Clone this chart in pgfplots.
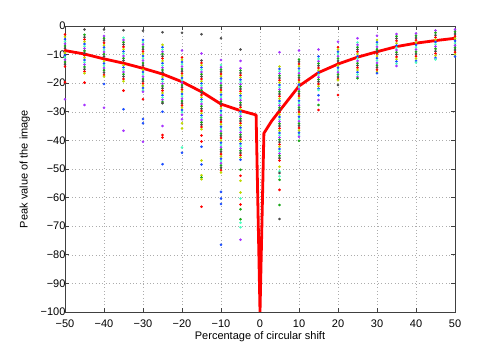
\documentclass[border=0pt]{standalone}
\usepackage{pgfplots}
\pgfplotsset{compat=1.18}
\usepackage{fontspec}
\setmainfont{Liberation Sans}

\definecolor{cr}{rgb}{1,0,0}
\definecolor{cg}{rgb}{0.1,0.65,0.1}
\definecolor{cb}{rgb}{0.1,0.3,1}
\definecolor{cp}{rgb}{0.65,0.2,1}
\definecolor{cy}{rgb}{0.75,0.85,0}
\definecolor{cc}{rgb}{0.3,1,0.75}
\definecolor{ck}{rgb}{0.3,0.3,0.3}

\begin{document}
\begin{tikzpicture}
\path[use as bounding box] (-65pt,-40pt) rectangle (437pt,312pt);
\begin{axis}[
    scale only axis,
    width=390pt, height=286pt,
    xmin=-50, xmax=50, ymin=-100, ymax=0,
    xtick={-50,-40,...,50},
    ytick={-100,-90,...,0},
    xticklabels={−50,−40,−30,−20,−10,0,10,20,30,40,50},
    yticklabels={−100,−90,−80,−70,−60,−50,−40,−30,−20,−10,0},
    xticklabel style={yshift=-4pt},
    yticklabel style={xshift=4pt},
    font=\fontsize{11}{13}\selectfont,
    axis line style={black!75, line width=0.6pt},
    tick style={black!75, line width=0.6pt},
    grid=major,
    grid style={gray!65, line width=0.5pt, dash pattern=on 0.8pt off 2.6pt},
    xlabel={Percentage of circular shift},
    ylabel={Peak value of the image},
    xlabel style={at={(axis description cs:0.5,-0.085)}, anchor=center},
    ylabel style={at={(axis description cs:-0.103,0.5)}, anchor=center},
]
% scattered peak values, one column per shift
\addplot[scatter, only marks, mark=*, mark size=1.1pt,
    point meta=explicit symbolic,
    scatter/classes={
        r={draw=cr,fill=cr}, g={draw=cg,fill=cg}, b={draw=cb,fill=cb},
        p={draw=cp,fill=cp}, y={draw=cy,fill=cy}, c={draw=cc,fill=cc},
        k={draw=ck,fill=ck}}]
coordinates {
% x = -50
(-50,-3.0)[r] (-50,-3.8)[y] (-50,-4.6)[b] (-50,-5.4)[c] (-50,-6.2)[p] (-50,-7.0)[g] (-50,-7.8)[k]
(-50,-8.6)[r] (-50,-9.4)[y] (-50,-10.2)[b] (-50,-11.0)[c] (-50,-11.8)[p] (-50,-12.6)[g] (-50,-13.4)[k]
(-50,-14.2)[r] (-50,-19.7)[r] (-50,-25.6)[p]
% x = -45
(-45,-1.2)[k]
(-45,-3.1)[g] (-45,-3.9)[k] (-45,-4.7)[r] (-45,-5.5)[y] (-45,-6.3)[b] (-45,-7.1)[c] (-45,-7.9)[p]
(-45,-8.7)[g] (-45,-9.5)[k] (-45,-10.3)[r] (-45,-11.1)[y] (-45,-11.9)[b] (-45,-12.7)[c] (-45,-13.5)[p]
(-45,-14.3)[g] (-45,-15.1)[k] (-45,-15.9)[r] (-45,-16.5)[y]
(-45,-19.8)[r] (-45,-27.6)[p]
% x = -40
(-40,-1.2)[k]
(-40,-3.5)[p] (-40,-4.3)[g] (-40,-5.1)[k] (-40,-5.9)[r] (-40,-6.7)[y] (-40,-7.5)[b] (-40,-8.3)[c]
(-40,-9.1)[p] (-40,-9.9)[g] (-40,-10.7)[k] (-40,-11.5)[r] (-40,-12.3)[y] (-40,-13.1)[b] (-40,-13.9)[c]
(-40,-14.7)[p] (-40,-15.5)[g] (-40,-16.3)[k] (-40,-17.1)[r] (-40,-17.7)[y]
(-40,-20.3)[b] (-40,-28.6)[p]
% x = -35
(-35,-1.5)[k]
(-35,-4.1)[c] (-35,-4.9)[p] (-35,-5.7)[g] (-35,-6.5)[k] (-35,-7.3)[r] (-35,-8.1)[y] (-35,-8.9)[b]
(-35,-9.7)[c] (-35,-10.5)[p] (-35,-11.3)[g] (-35,-12.1)[k] (-35,-12.9)[r] (-35,-13.7)[y] (-35,-14.5)[b]
(-35,-15.3)[c] (-35,-16.1)[p] (-35,-16.9)[g] (-35,-17.7)[k] (-35,-18.5)[r] (-35,-19.3)[y]
(-35,-22.6)[r] (-35,-29.1)[b] (-35,-36.6)[p]
% x = -30
(-30,-1.7)[k]
(-30,-4.9)[b] (-30,-5.7)[c] (-30,-6.5)[p] (-30,-7.3)[g] (-30,-8.1)[k] (-30,-8.9)[r] (-30,-9.7)[y]
(-30,-10.5)[b] (-30,-11.3)[c] (-30,-12.1)[p] (-30,-12.9)[g] (-30,-13.7)[k] (-30,-14.5)[r] (-30,-15.3)[y]
(-30,-16.1)[b] (-30,-16.9)[c] (-30,-17.7)[p] (-30,-18.5)[g] (-30,-19.3)[k] (-30,-20.1)[r] (-30,-20.9)[y]
(-30,-21.7)[b] (-30,-22.5)[c] (-30,-23.0)[p]
(-30,-25.6)[r] (-30,-32.5)[b] (-30,-34.0)[b] (-30,-40.5)[p]
% x = -25
(-25,-2.2)[k]
(-25,-6.6)[y] (-25,-7.4)[b] (-25,-8.2)[c] (-25,-9.0)[p] (-25,-9.8)[g] (-25,-10.6)[k] (-25,-11.4)[r]
(-25,-12.2)[y] (-25,-13.0)[b] (-25,-13.8)[c] (-25,-14.6)[p] (-25,-15.4)[g] (-25,-16.2)[k] (-25,-17.0)[r]
(-25,-17.8)[y] (-25,-18.6)[b] (-25,-19.4)[c] (-25,-20.2)[p] (-25,-21.0)[g] (-25,-21.8)[k] (-25,-22.6)[r]
(-25,-23.4)[y] (-25,-24.2)[b] (-25,-25.0)[c] (-25,-25.8)[p] (-25,-26.6)[g] (-25,-27.0)[k]
(-25,-30.0)[b] (-25,-35.0)[p] (-25,-38.1)[r] (-25,-39.0)[r] (-25,-48.3)[b]
% x = -20
(-20,-2.4)[k] (-20,-8.6)[p]
(-20,-11.0)[r] (-20,-11.8)[y] (-20,-12.6)[b] (-20,-13.4)[c] (-20,-14.2)[p] (-20,-15.0)[g] (-20,-15.8)[k]
(-20,-16.6)[r] (-20,-17.4)[y] (-20,-18.2)[b] (-20,-19.0)[c] (-20,-19.8)[p] (-20,-20.6)[g] (-20,-21.4)[k]
(-20,-22.2)[r] (-20,-23.0)[y] (-20,-23.8)[b] (-20,-24.6)[c] (-20,-25.4)[p] (-20,-26.2)[g] (-20,-27.0)[k]
(-20,-27.8)[r] (-20,-28.6)[y] (-20,-29.4)[b] (-20,-30.2)[c] (-20,-31.0)[p]
(-20,-32.6)[p] (-20,-34.0)[y] (-20,-35.8)[y] (-20,-42.5)[c] (-20,-44.3)[b]
% x = -15
(-15,-2.9)[k] (-15,-9.6)[p]
(-15,-12.1)[k] (-15,-12.9)[r] (-15,-13.7)[y] (-15,-14.5)[b] (-15,-15.3)[c] (-15,-16.1)[p] (-15,-16.9)[g]
(-15,-17.7)[k] (-15,-18.5)[r] (-15,-19.3)[y] (-15,-20.1)[b] (-15,-20.9)[c] (-15,-21.7)[p] (-15,-22.5)[g]
(-15,-23.3)[k] (-15,-24.1)[r] (-15,-24.9)[y] (-15,-25.7)[b] (-15,-26.5)[c] (-15,-27.3)[p] (-15,-28.1)[g]
(-15,-28.9)[k] (-15,-29.7)[r] (-15,-30.5)[y] (-15,-31.3)[b] (-15,-32.1)[c] (-15,-32.9)[p] (-15,-33.7)[g]
(-15,-34.5)[k] (-15,-35.3)[r] (-15,-36.1)[y]
(-15,-38.3)[r] (-15,-40.4)[r] (-15,-42.2)[b] (-15,-47.0)[y] (-15,-48.4)[b] (-15,-52.2)[y]
(-15,-53.0)[g] (-15,-53.6)[y] (-15,-63.2)[r]
% x = -10
(-10,-4.3)[k] (-10,-11.9)[p]
(-10,-13.6)[c] (-10,-14.4)[p] (-10,-15.2)[g] (-10,-16.0)[k] (-10,-16.8)[r] (-10,-17.6)[y] (-10,-18.4)[b]
(-10,-19.2)[c] (-10,-20.0)[p] (-10,-20.8)[g] (-10,-21.6)[k] (-10,-22.4)[r] (-10,-23.2)[y] (-10,-24.0)[b]
(-10,-24.8)[c] (-10,-25.6)[p] (-10,-26.4)[g] (-10,-27.2)[k] (-10,-28.0)[r] (-10,-28.8)[y] (-10,-29.6)[b]
(-10,-30.4)[c] (-10,-31.2)[p] (-10,-32.0)[g] (-10,-32.8)[k] (-10,-33.6)[r] (-10,-34.4)[y] (-10,-35.2)[b]
(-10,-36.0)[c] (-10,-36.8)[p] (-10,-37.6)[g] (-10,-38.4)[k] (-10,-39.2)[r] (-10,-40.0)[y] (-10,-40.8)[b]
(-10,-41.6)[c] (-10,-42.4)[p] (-10,-43.2)[g] (-10,-44.0)[k] (-10,-44.8)[r] (-10,-45.6)[y] (-10,-46.4)[b]
(-10,-47.2)[c] (-10,-48.0)[p] (-10,-48.8)[g] (-10,-49.6)[k] (-10,-50.4)[r] (-10,-51.2)[y]
(-10,-58.0)[b] (-10,-60.3)[b] (-10,-62.2)[b] (-10,-76.5)[b]
% x = -5
(-5,-8.2)[k] (-5,-12.2)[p]
(-5,-14.8)[p] (-5,-15.6)[g] (-5,-16.4)[k] (-5,-17.2)[r] (-5,-18.0)[y] (-5,-18.8)[b] (-5,-19.6)[c]
(-5,-20.4)[p] (-5,-21.2)[g] (-5,-22.0)[k] (-5,-22.8)[r] (-5,-23.6)[y] (-5,-24.4)[b] (-5,-25.2)[c]
(-5,-26.0)[p] (-5,-26.8)[g] (-5,-27.6)[k] (-5,-28.4)[r] (-5,-29.2)[y] (-5,-30.0)[b] (-5,-30.8)[c]
(-5,-31.6)[p] (-5,-32.4)[g] (-5,-33.2)[k] (-5,-34.0)[r] (-5,-34.8)[y] (-5,-35.6)[b] (-5,-36.4)[c]
(-5,-37.2)[p] (-5,-38.0)[g] (-5,-38.8)[k] (-5,-39.6)[r] (-5,-40.4)[y] (-5,-41.2)[b] (-5,-42.0)[c]
(-5,-42.8)[p] (-5,-43.6)[g] (-5,-44.4)[k] (-5,-45.2)[r] (-5,-46.0)[y] (-5,-46.8)[b]
(-5,-50.3)[g] (-5,-52.4)[r] (-5,-54.1)[y] (-5,-58.2)[y] (-5,-60.3)[c] (-5,-62.4)[r]
(-5,-64.1)[g] (-5,-67.6)[g] (-5,-68.8)[c] (-5,-70.4)[c] (-5,-74.7)[p]
% x = 5
(5,-9.2)[p]
(5,-14.2)[y] (5,-15.0)[b] (5,-15.8)[c] (5,-16.6)[p] (5,-17.4)[g] (5,-18.2)[k] (5,-19.0)[r]
(5,-19.8)[y] (5,-20.6)[b] (5,-21.4)[c] (5,-22.2)[p] (5,-23.0)[g] (5,-23.8)[k] (5,-24.6)[r]
(5,-25.4)[y] (5,-26.2)[b] (5,-27.0)[c] (5,-27.8)[p] (5,-28.6)[g] (5,-29.4)[k] (5,-30.2)[r]
(5,-31.0)[y] (5,-31.8)[b] (5,-32.6)[c] (5,-33.4)[p] (5,-34.2)[g] (5,-35.0)[k] (5,-35.8)[r]
(5,-36.6)[y] (5,-37.4)[b] (5,-38.2)[c] (5,-39.0)[p] (5,-39.8)[g] (5,-40.6)[k] (5,-41.4)[r]
(5,-42.2)[y] (5,-43.0)[b] (5,-43.8)[c] (5,-44.6)[p] (5,-45.4)[g] (5,-46.2)[k] (5,-47.0)[r]
(5,-49.2)[y] (5,-50.8)[c] (5,-51.4)[k] (5,-52.5)[c] (5,-53.8)[g] (5,-57.3)[r] (5,-62.6)[g] (5,-67.5)[k]
% x = 10
(10,-8.6)[p]
(10,-11.7)[g] (10,-12.5)[k] (10,-13.3)[r] (10,-14.1)[y] (10,-14.9)[b] (10,-15.7)[c] (10,-16.5)[p]
(10,-17.3)[g] (10,-18.1)[k] (10,-18.9)[r] (10,-19.7)[y] (10,-20.5)[b] (10,-21.3)[c] (10,-22.1)[p]
(10,-22.9)[g] (10,-23.7)[k] (10,-24.5)[r] (10,-25.3)[y] (10,-26.1)[b] (10,-26.9)[c] (10,-27.7)[p]
(10,-28.5)[g] (10,-29.3)[k] (10,-30.1)[r] (10,-30.9)[y] (10,-31.7)[b] (10,-32.5)[c] (10,-33.3)[p]
(10,-34.1)[g] (10,-34.9)[k] (10,-35.7)[r] (10,-36.5)[y] (10,-37.3)[b] (10,-38.1)[c] (10,-38.7)[p]
(10,-40.1)[g]
% x = 15
(15,-8.2)[p]
(15,-10.7)[b] (15,-11.5)[c] (15,-12.3)[p] (15,-13.1)[g] (15,-13.9)[k] (15,-14.7)[r] (15,-15.5)[y]
(15,-16.3)[b] (15,-17.1)[c] (15,-17.9)[p] (15,-18.7)[g] (15,-19.5)[k] (15,-20.3)[r] (15,-21.1)[y]
(15,-21.9)[b] (15,-22.4)[c]
(15,-24.2)[b] (15,-25.9)[p] (15,-27.6)[g] (15,-29.4)[r]
% x = 20
(20,-5.5)[p]
(20,-7.4)[r] (20,-8.2)[y] (20,-9.0)[b] (20,-9.8)[c] (20,-10.6)[p] (20,-11.4)[g] (20,-12.2)[k]
(20,-13.0)[r] (20,-13.8)[y] (20,-14.6)[b] (20,-15.4)[c] (20,-16.2)[p] (20,-17.0)[g] (20,-17.8)[k]
(20,-18.6)[r] (20,-19.0)[y]
(20,-20.6)[k] (20,-24.1)[r]
% x = 25
(25,-4.3)[p]
(25,-5.8)[c] (25,-6.6)[p] (25,-7.4)[g] (25,-8.2)[k] (25,-9.0)[r] (25,-9.8)[y] (25,-10.6)[b]
(25,-11.4)[c] (25,-12.2)[p] (25,-13.0)[g] (25,-13.8)[k] (25,-14.6)[r] (25,-15.4)[y] (25,-16.2)[b]
(25,-17.0)[c] (25,-17.8)[p] (25,-18.3)[g]
% x = 30
(30,-3.4)[p]
(30,-4.9)[y] (30,-5.7)[b] (30,-6.5)[c] (30,-7.3)[p] (30,-8.1)[g] (30,-8.9)[k] (30,-9.7)[r]
(30,-10.5)[y] (30,-11.3)[b] (30,-12.1)[c] (30,-12.9)[p] (30,-13.7)[g] (30,-14.5)[k] (30,-15.3)[r]
(30,-16.1)[y] (30,-16.5)[b]
% x = 35
(35,-2.8)[p] (35,-3.6)[g] (35,-4.4)[k] (35,-5.2)[r] (35,-6.0)[y] (35,-6.8)[b] (35,-7.6)[c]
(35,-8.4)[p] (35,-9.2)[g] (35,-10.0)[k] (35,-10.8)[r] (35,-11.6)[y] (35,-12.4)[b] (35,-13.2)[c]
(35,-14.0)[p]
% x = 40
(40,-2.6)[p] (40,-3.4)[g] (40,-4.2)[k] (40,-5.0)[r] (40,-5.8)[y] (40,-6.6)[b] (40,-7.4)[c]
(40,-8.2)[p] (40,-9.0)[g] (40,-9.8)[k] (40,-10.6)[r] (40,-11.4)[y] (40,-12.2)[b] (40,-12.8)[c]
% x = 45
(45,-1.6)[p] (45,-2.4)[g] (45,-3.2)[k] (45,-4.0)[r] (45,-4.8)[y] (45,-5.6)[b] (45,-6.4)[c]
(45,-7.2)[p] (45,-8.0)[g] (45,-8.8)[k] (45,-9.6)[r] (45,-10.4)[y] (45,-11.2)[b] (45,-11.7)[c]
% x = 50
(50,-1.2)[p] (50,-2.0)[g] (50,-2.8)[k] (50,-3.6)[r] (50,-4.4)[y] (50,-5.2)[b] (50,-6.0)[c]
(50,-6.8)[p] (50,-7.6)[g] (50,-8.4)[k] (50,-9.2)[r] (50,-10.0)[y] (50,-10.7)[b]
};
% mean curve
\addplot[cr, line width=2.8pt, line join=round] coordinates {
(-50,-8.6) (-45,-9.8) (-40,-11.5) (-35,-13.0) (-30,-14.8) (-25,-16.8)
(-20,-19.5) (-15,-23.0) (-10,-27.3) (-5,-29.6) (-1,-31.1) (0,-100)
(1,-37.5) (3,-33.2) (5,-29.7) (10,-21.0) (15,-16.3) (20,-13.3)
(25,-10.9) (30,-9.0) (35,-7.2) (40,-6.0) (45,-5.1) (50,-4.3)
};
\end{axis}
\end{tikzpicture}
\end{document}
